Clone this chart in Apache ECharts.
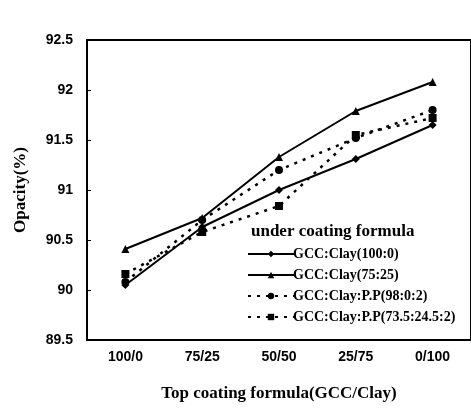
<!DOCTYPE html>
<html>
<head>
<meta charset="utf-8">
<script src="https://cdn.jsdelivr.net/npm/echarts@6/dist/echarts.min.js"></script>
<style>
    html, body { margin: 0; padding: 0; background: #fff; }
    #chart { width: 471px; height: 410px; }
</style>
</head>
<body>
<div id="chart"></div>
<script>
const categories = ['100/0', '75/25', '50/50', '25/75', '0/100']
const seriesNames = [
    'GCC:Clay(100:0)',
    'GCC:Clay(75:25)',
    'GCC:Clay:P.P(98:0:2)',
    'GCC:Clay:P.P(73.5:24.5:2)'
]
const clay100 = [90.05, 90.63, 91.0, 91.31, 91.65]
const clay75 = [90.41, 90.72, 91.33, 91.79, 92.08]
const pp98 = [90.08, 90.7, 91.2, 91.52, 91.8]
const pp735 = [90.16, 90.58, 90.84, 91.55, 91.72]

const chart = echarts.init(document.getElementById('chart'))

const serif = 'Liberation Serif'
const sans = 'Liberation Sans'

function makeLine(name, data, symbol, dashed, size) {
    return {
        name: name,
        type: 'line',
        data: data,
        symbol: symbol,
        symbolSize: size,
        itemStyle: { color: '#000' },
        lineStyle: {
            color: '#000',
            width: dashed ? 2.5 : 2,
            type: dashed ? [3, 6] : 'solid'
        }
    }
}

chart.setOption({
    animation: false,
    grid: {
        left: 87,
        top: 40,
        width: 386,
        height: 300,
        show: true,
        borderColor: '#000',
        borderWidth: 2
    },
    title: {
        text: 'under coating formula',
        left: 246,
        top: 218,
        textStyle: {
            fontFamily: serif,
            fontWeight: 'bold',
            fontSize: 17,
            color: '#000'
        }
    },
    legend: {
        orient: 'vertical',
        left: 242,
        top: 242,
        itemWidth: 46,
        itemHeight: 8,
        itemGap: 7,
        data: seriesNames,
        textStyle: {
            fontFamily: serif,
            fontWeight: 'bold',
            fontSize: 14,
            color: '#000',
            padding: [0, 0, 0, -6]
        }
    },
    xAxis: {
        type: 'category',
        data: categories,
        boundaryGap: true,
        name: 'Top coating formula(GCC/Clay)',
        nameLocation: 'middle',
        nameGap: 45,
        nameTextStyle: {
            fontFamily: serif,
            fontWeight: 'bold',
            fontSize: 17,
            color: '#000'
        },
        axisLine: { lineStyle: { color: '#000', width: 2 } },
        axisTick: { inside: true, length: 4, lineStyle: { color: '#000' } },
        axisLabel: {
            fontFamily: sans,
            fontWeight: 'bold',
            fontSize: 14,
            color: '#000',
            margin: 10
        },
        splitLine: { show: false }
    },
    yAxis: {
        type: 'value',
        min: 89.5,
        max: 92.5,
        interval: 0.5,
        name: 'Opacity(%)',
        nameLocation: 'middle',
        nameGap: 58,
        nameTextStyle: {
            fontFamily: serif,
            fontWeight: 'bold',
            fontSize: 17,
            color: '#000'
        },
        axisLine: { show: true, lineStyle: { color: '#000', width: 2 } },
        axisTick: { show: true, inside: true, length: 4, lineStyle: { color: '#000' } },
        axisLabel: {
            fontFamily: sans,
            fontWeight: 'bold',
            fontSize: 14,
            color: '#000',
            margin: 14
        },
        splitLine: { show: false }
    },
    series: [
        makeLine(seriesNames[0], clay100, 'diamond', false, 8),
        makeLine(seriesNames[1], clay75, 'triangle', false, 8),
        makeLine(seriesNames[2], pp98, 'circle', true, 8),
        makeLine(seriesNames[3], pp735, 'rect', true, 8)
    ]
})
</script>
</body>
</html>
